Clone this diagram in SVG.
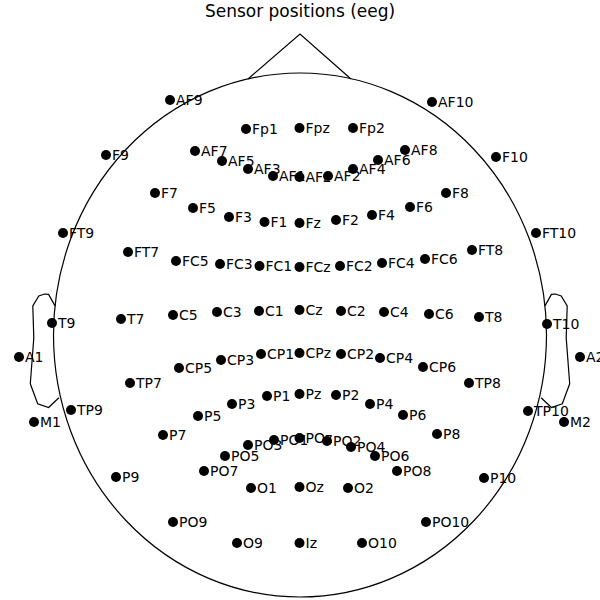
<svg xmlns="http://www.w3.org/2000/svg" width="600" height="600" viewBox="0 0 600 600">
<style>
.o{fill:none;stroke:#000;stroke-width:1.2}
.n circle{fill:#000}
.n text{font-family:"DejaVu Sans",sans-serif;font-size:14px;fill:#000}
.t{font-family:"DejaVu Sans",sans-serif;font-size:17px;fill:#000;text-anchor:middle}
</style>
<rect width="600" height="600" fill="#fff"/>
<text class="t" x="300" y="16.5">Sensor positions (eeg)</text>
<g id="outline">
<ellipse class="o" cx="300" cy="335" rx="246.5" ry="262"/>
<polyline class="o" points="248,79 300,34 351,79"/>
<polyline class="o" points="55,305.9 48.6,294.4 44.6,294 38.8,295.9 32.8,305.9 33.8,337.9 30.3,383.8 37.7,403.8 48.6,407.5 58.9,397.8"/>
<polyline class="o" points="545,305.9 551.4,294.4 555.4,294 561.2,295.9 567.2,305.9 566.2,337.9 569.7,383.8 562.3,403.8 551.4,407.5 541.1,397.8"/>
</g>
<g id="connectors"/>
<g id="nodes" class="n">
<g id="AF9"><circle cx="170" cy="100" r="5"/><text x="176" y="105">AF9</text></g>
<g id="AF10"><circle cx="432" cy="102" r="5"/><text x="438" y="107">AF10</text></g>
<g id="F9"><circle cx="106" cy="155" r="5"/><text x="112" y="160">F9</text></g>
<g id="F10"><circle cx="496" cy="157" r="5"/><text x="502" y="162">F10</text></g>
<g id="Fp1"><circle cx="246" cy="129" r="5"/><text x="252" y="134">Fp1</text></g>
<g id="Fpz"><circle cx="299.5" cy="128" r="5"/><text x="305.5" y="133">Fpz</text></g>
<g id="Fp2"><circle cx="353" cy="128" r="5"/><text x="359" y="133">Fp2</text></g>
<g id="AF7"><circle cx="195" cy="151" r="5"/><text x="201" y="156">AF7</text></g>
<g id="AF5"><circle cx="222" cy="161" r="5"/><text x="228" y="166">AF5</text></g>
<g id="AF3"><circle cx="248" cy="169" r="5"/><text x="254" y="174">AF3</text></g>
<g id="AF1"><circle cx="273" cy="176" r="5"/><text x="279" y="181">AF1</text></g>
<g id="AFz"><circle cx="299.5" cy="177" r="5"/><text x="305.5" y="182">AFz</text></g>
<g id="AF2"><circle cx="328" cy="176" r="5"/><text x="334" y="181">AF2</text></g>
<g id="AF4"><circle cx="353" cy="169" r="5"/><text x="359" y="174">AF4</text></g>
<g id="AF6"><circle cx="378" cy="160" r="5"/><text x="384" y="165">AF6</text></g>
<g id="AF8"><circle cx="405" cy="150" r="5"/><text x="411" y="155">AF8</text></g>
<g id="F7"><circle cx="155" cy="193" r="5"/><text x="161" y="198">F7</text></g>
<g id="F5"><circle cx="193" cy="208" r="5"/><text x="199" y="213">F5</text></g>
<g id="F3"><circle cx="229" cy="217" r="5"/><text x="235" y="222">F3</text></g>
<g id="F1"><circle cx="264.5" cy="222" r="5"/><text x="270.5" y="227">F1</text></g>
<g id="Fz"><circle cx="299.5" cy="223" r="5"/><text x="305.5" y="228">Fz</text></g>
<g id="F2"><circle cx="336" cy="220" r="5"/><text x="342" y="225">F2</text></g>
<g id="F4"><circle cx="372" cy="215" r="5"/><text x="378" y="220">F4</text></g>
<g id="F6"><circle cx="410" cy="207" r="5"/><text x="416" y="212">F6</text></g>
<g id="F8"><circle cx="446" cy="193" r="5"/><text x="452" y="198">F8</text></g>
<g id="FT9"><circle cx="63" cy="233" r="5"/><text x="69" y="238">FT9</text></g>
<g id="FT7"><circle cx="128" cy="252" r="5"/><text x="134" y="257">FT7</text></g>
<g id="FC5"><circle cx="176" cy="261" r="5"/><text x="182" y="266">FC5</text></g>
<g id="FC3"><circle cx="220" cy="264" r="5"/><text x="226" y="269">FC3</text></g>
<g id="FC1"><circle cx="259.5" cy="266" r="5"/><text x="265.5" y="271">FC1</text></g>
<g id="FCz"><circle cx="299.5" cy="267" r="5"/><text x="305.5" y="272">FCz</text></g>
<g id="FC2"><circle cx="340" cy="266" r="5"/><text x="346" y="271">FC2</text></g>
<g id="FC4"><circle cx="382" cy="263" r="5"/><text x="388" y="268">FC4</text></g>
<g id="FC6"><circle cx="425" cy="259" r="5"/><text x="431" y="264">FC6</text></g>
<g id="FT8"><circle cx="472" cy="250" r="5"/><text x="478" y="255">FT8</text></g>
<g id="FT10"><circle cx="536" cy="233" r="5"/><text x="542" y="238">FT10</text></g>
<g id="T9"><circle cx="52" cy="323" r="5"/><text x="58" y="328">T9</text></g>
<g id="T7"><circle cx="121" cy="319" r="5"/><text x="127" y="324">T7</text></g>
<g id="C5"><circle cx="173" cy="315" r="5"/><text x="179" y="320">C5</text></g>
<g id="C3"><circle cx="217" cy="312" r="5"/><text x="223" y="317">C3</text></g>
<g id="C1"><circle cx="259" cy="311" r="5"/><text x="265" y="316">C1</text></g>
<g id="Cz"><circle cx="299.5" cy="310" r="5"/><text x="305.5" y="315">Cz</text></g>
<g id="C2"><circle cx="341" cy="311" r="5"/><text x="347" y="316">C2</text></g>
<g id="C4"><circle cx="384" cy="312" r="5"/><text x="390" y="317">C4</text></g>
<g id="C6"><circle cx="429" cy="314" r="5"/><text x="435" y="319">C6</text></g>
<g id="T8"><circle cx="479" cy="317" r="5"/><text x="485" y="322">T8</text></g>
<g id="T10"><circle cx="547" cy="324" r="5"/><text x="553" y="329">T10</text></g>
<g id="A1"><circle cx="19" cy="357" r="5"/><text x="25" y="362">A1</text></g>
<g id="A2"><circle cx="580" cy="357" r="5"/><text x="586" y="362">A2</text></g>
<g id="CP5"><circle cx="179" cy="368" r="5"/><text x="185" y="373">CP5</text></g>
<g id="CP3"><circle cx="221" cy="360" r="5"/><text x="227" y="365">CP3</text></g>
<g id="CP1"><circle cx="261" cy="354" r="5"/><text x="267" y="359">CP1</text></g>
<g id="CPz"><circle cx="299.5" cy="353" r="5"/><text x="305.5" y="358">CPz</text></g>
<g id="CP2"><circle cx="341" cy="354" r="5"/><text x="347" y="359">CP2</text></g>
<g id="CP4"><circle cx="380" cy="358" r="5"/><text x="386" y="363">CP4</text></g>
<g id="CP6"><circle cx="423" cy="367" r="5"/><text x="429" y="372">CP6</text></g>
<g id="TP7"><circle cx="130" cy="383" r="5"/><text x="136" y="388">TP7</text></g>
<g id="TP8"><circle cx="469" cy="383" r="5"/><text x="475" y="388">TP8</text></g>
<g id="TP9"><circle cx="71" cy="410" r="5"/><text x="77" y="415">TP9</text></g>
<g id="TP10"><circle cx="528" cy="411" r="5"/><text x="534" y="416">TP10</text></g>
<g id="M1"><circle cx="34" cy="422" r="5"/><text x="40" y="427">M1</text></g>
<g id="M2"><circle cx="564" cy="422" r="5"/><text x="570" y="427">M2</text></g>
<g id="P7"><circle cx="163" cy="435" r="5"/><text x="169" y="440">P7</text></g>
<g id="P5"><circle cx="198" cy="416" r="5"/><text x="204" y="421">P5</text></g>
<g id="P3"><circle cx="232" cy="404" r="5"/><text x="238" y="409">P3</text></g>
<g id="P1"><circle cx="267" cy="396" r="5"/><text x="273" y="401">P1</text></g>
<g id="Pz"><circle cx="299.5" cy="394" r="5"/><text x="305.5" y="399">Pz</text></g>
<g id="P2"><circle cx="336" cy="395" r="5"/><text x="342" y="400">P2</text></g>
<g id="P4"><circle cx="370" cy="404" r="5"/><text x="376" y="409">P4</text></g>
<g id="P6"><circle cx="403" cy="415" r="5"/><text x="409" y="420">P6</text></g>
<g id="P8"><circle cx="437" cy="434" r="5"/><text x="443" y="439">P8</text></g>
<g id="P9"><circle cx="116" cy="477" r="5"/><text x="122" y="482">P9</text></g>
<g id="P10"><circle cx="484" cy="478" r="5"/><text x="490" y="483">P10</text></g>
<g id="PO7"><circle cx="204" cy="471" r="5"/><text x="210" y="476">PO7</text></g>
<g id="PO5"><circle cx="225" cy="456" r="5"/><text x="231" y="461">PO5</text></g>
<g id="PO3"><circle cx="248" cy="445" r="5"/><text x="254" y="450">PO3</text></g>
<g id="PO1"><circle cx="274" cy="440" r="5"/><text x="280" y="445">PO1</text></g>
<g id="POz"><circle cx="299.5" cy="438" r="5"/><text x="305.5" y="443">POz</text></g>
<g id="PO2"><circle cx="327" cy="441" r="5"/><text x="333" y="446">PO2</text></g>
<g id="PO4"><circle cx="351" cy="447" r="5"/><text x="357" y="452">PO4</text></g>
<g id="PO6"><circle cx="375" cy="456" r="5"/><text x="381" y="461">PO6</text></g>
<g id="PO8"><circle cx="397" cy="471" r="5"/><text x="403" y="476">PO8</text></g>
<g id="O1"><circle cx="251" cy="488" r="5"/><text x="257" y="493">O1</text></g>
<g id="Oz"><circle cx="299.5" cy="487" r="5"/><text x="305.5" y="492">Oz</text></g>
<g id="O2"><circle cx="348" cy="488" r="5"/><text x="354" y="493">O2</text></g>
<g id="PO9"><circle cx="173" cy="522" r="5"/><text x="179" y="527">PO9</text></g>
<g id="PO10"><circle cx="426" cy="522" r="5"/><text x="432" y="527">PO10</text></g>
<g id="O9"><circle cx="237" cy="543" r="5"/><text x="243" y="548">O9</text></g>
<g id="Iz"><circle cx="299.5" cy="543" r="5"/><text x="305.5" y="548">Iz</text></g>
<g id="O10"><circle cx="362" cy="543" r="5"/><text x="368" y="548">O10</text></g>
</g>
</svg>
